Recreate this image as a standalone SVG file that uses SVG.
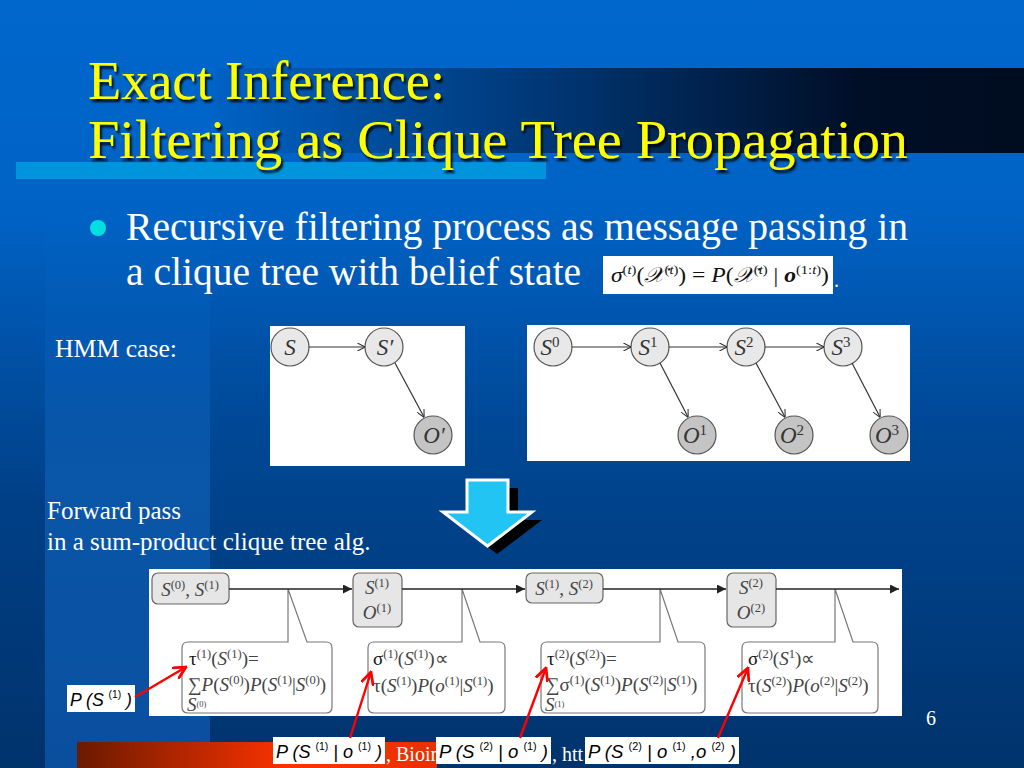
<svg xmlns="http://www.w3.org/2000/svg" width="1024" height="768" viewBox="0 0 1024 768">
<defs>
<linearGradient id="bg" x1="0" y1="0" x2="0" y2="1">
<stop offset="0" stop-color="#0067cd"/>
<stop offset="0.28" stop-color="#0062c4"/>
<stop offset="0.55" stop-color="#004896"/>
<stop offset="1" stop-color="#00336c"/>
</linearGradient>
<linearGradient id="colL" x1="0" y1="0" x2="0" y2="1">
<stop offset="0" stop-color="#0066cc" stop-opacity="0"/>
<stop offset="0.5" stop-color="#0a56a8"/>
<stop offset="1" stop-color="#0a4f9e"/>
</linearGradient>
<linearGradient id="colF" x1="0" y1="0" x2="0" y2="1">
<stop offset="0" stop-color="#0066cc" stop-opacity="0"/>
<stop offset="0.55" stop-color="#003f86"/>
<stop offset="1" stop-color="#00336c"/>
</linearGradient>
<linearGradient id="band" x1="0" y1="0" x2="1" y2="0">
<stop offset="0" stop-color="#0062c4"/>
<stop offset="0.35" stop-color="#003d80"/>
<stop offset="0.8" stop-color="#000e26"/>
<stop offset="1" stop-color="#000c20"/>
</linearGradient>
<linearGradient id="strip" x1="0" y1="0" x2="1" y2="0">
<stop offset="0" stop-color="#6a1a00"/>
<stop offset="0.6" stop-color="#ff3300"/>
<stop offset="1" stop-color="#e83000"/>
</linearGradient>
<filter id="shadow" x="-5%" y="-20%" width="110%" height="140%">
<feDropShadow dx="2" dy="3" stdDeviation="1" flood-color="#000" flood-opacity="0.9"/>
</filter>
<marker id="ah" viewBox="0 0 10 10" refX="9.5" refY="5" markerWidth="8" markerHeight="8" orient="auto" markerUnits="userSpaceOnUse">
<path d="M0,0 L10,5 L0,10" fill="none" stroke="#333" stroke-width="1.3"/>
</marker>
<marker id="tri" viewBox="0 0 10 10" refX="10" refY="5" markerWidth="11" markerHeight="9" orient="auto" markerUnits="userSpaceOnUse">
<path d="M0,0 L10,5 L0,10 z" fill="#222"/>
</marker>
<marker id="red" viewBox="0 0 10 10" refX="9" refY="5" markerWidth="14" markerHeight="14" orient="auto" markerUnits="userSpaceOnUse">
<path d="M0,0.5 L9,5 L0,9.5" fill="none" stroke="#ff0000" stroke-width="2"/>
</marker>
</defs>
<style>
.serif{font-family:"Liberation Serif","Times New Roman",serif;}
.title{font-family:"Liberation Serif","Times New Roman",serif;font-size:54px;fill:#ffff00;filter:url(#shadow);}
.body{font-family:"Liberation Serif",serif;fill:#ffffff;}
.node{fill:#e8e8e8;stroke:#555;stroke-width:1.2;}
.obs{fill:#c4c4c4;stroke:#555;stroke-width:1.2;}
.nl{font-family:"Liberation Serif",serif;font-style:italic;font-size:23px;fill:#333;}
.ns{font-style:normal;font-size:15px;}
.edge{stroke:#333;stroke-width:1.2;fill:none;marker-end:url(#ah);}
.flow{stroke:#222;stroke-width:1.3;fill:none;marker-end:url(#tri);}
.clq{fill:#e6e6e6;stroke:#666;stroke-width:1.2;}
.call{fill:#fff;stroke:#777;stroke-width:1.2;}
.m{font-family:"Liberation Serif",serif;font-size:19px;fill:#444;}
.i{font-style:italic;}
.g{fill:#111;}
.sp{font-size:12.5px;font-style:normal;}
.redarr{stroke:#ff0000;stroke-width:2.4;fill:none;marker-end:url(#red);}
.lab{fill:#fff;}
.lt{font-family:"Liberation Sans",Arial,sans-serif;font-style:italic;font-size:18px;fill:#000;}
.lts{font-size:10.5px;font-style:normal;}
</style>

<!-- background -->
<rect x="0" y="0" width="1024" height="768" fill="url(#bg)"/>
<rect x="45" y="180" width="165" height="588" fill="url(#colL)"/>
<rect x="0" y="180" width="45" height="588" fill="url(#colF)"/>
<rect x="215" y="68" width="809" height="85" fill="url(#band)"/>
<rect x="16" y="162" width="530" height="17" fill="#0094dc"/>
<rect x="77" y="742" width="360" height="26" fill="url(#strip)"/>

<!-- title -->
<g id="title">
<text class="title" x="88" y="99" textLength="357" lengthAdjust="spacingAndGlyphs">Exact Inference:</text>
<text class="title" x="88" y="158" textLength="820" lengthAdjust="spacingAndGlyphs">Filtering as Clique Tree Propagation</text>
</g>

<!-- bullet -->
<g id="bullet">
<circle cx="98" cy="228" r="8" fill="#00e0e0"/>
<text class="body" x="126" y="240" font-size="39.5" textLength="782" lengthAdjust="spacingAndGlyphs">Recursive filtering process as message passing in</text>
<text class="body" x="126" y="285" font-size="39.5">a clique tree with belief state</text>
<rect x="603" y="256" width="230" height="38" fill="#fff"/>
<text class="serif" x="611" y="282" font-size="21" fill="#111" textLength="218" lengthAdjust="spacingAndGlyphs"><tspan class="i">σ</tspan><tspan font-size="13" dy="-8">(<tspan class="i">t</tspan>)</tspan><tspan dy="8">(</tspan><tspan class="i">𝒳</tspan><tspan font-size="13" dy="-8">(<tspan class="i">t</tspan>)</tspan><tspan dy="8">) = </tspan><tspan class="i">P</tspan>(<tspan class="i">𝒳</tspan><tspan font-size="13" dy="-8">(<tspan class="i">t</tspan>)</tspan><tspan dy="8"> | </tspan><tspan class="i" font-weight="bold">o</tspan><tspan font-size="13" dy="-8">(1:<tspan class="i">t</tspan>)</tspan><tspan dy="8">)</tspan></text>
<text class="body" x="834" y="287" font-size="20">.</text>
</g>

<!-- texts -->
<text class="body" x="55" y="357" font-size="25" textLength="122" lengthAdjust="spacingAndGlyphs">HMM case:</text>
<text class="body" x="47" y="519" font-size="25">Forward pass</text>
<text class="body" x="47" y="550" font-size="25">in a sum-product clique tree alg.</text>
<text class="body" x="926" y="725" font-size="20">6</text>

<!-- HMM 2TBN -->
<g id="hmm-2tbn">
<rect x="270" y="326" width="195" height="140" fill="#fff"/>
<g id="n-S"><circle class="node" cx="290" cy="347" r="19"/><text class="nl" x="290" y="355" text-anchor="middle">S</text></g>
<g id="n-Sp"><circle class="node" cx="384" cy="347" r="19"/><text class="nl" x="385" y="355" text-anchor="middle">S′</text></g>
<g id="n-Op"><circle class="obs" cx="433" cy="435" r="19"/><text class="nl" x="434" y="443" text-anchor="middle">O′</text></g>
</g>

<!-- HMM unrolled -->
<g id="hmm-unrolled">
<rect x="527" y="325" width="383" height="136" fill="#fff"/>
<g id="n-S0"><circle class="node" cx="553" cy="347" r="19"/><text class="nl" x="550" y="355" text-anchor="middle">S<tspan class="ns" dy="-8">0</tspan></text></g>
<g id="n-S1"><circle class="node" cx="650" cy="347" r="19"/><text class="nl" x="648" y="355" text-anchor="middle">S<tspan class="ns" dy="-8">1</tspan></text></g>
<g id="n-S2"><circle class="node" cx="746" cy="347" r="19"/><text class="nl" x="744" y="355" text-anchor="middle">S<tspan class="ns" dy="-8">2</tspan></text></g>
<g id="n-S3"><circle class="node" cx="843" cy="347" r="19"/><text class="nl" x="841" y="355" text-anchor="middle">S<tspan class="ns" dy="-8">3</tspan></text></g>
<g id="n-O1"><circle class="obs" cx="697" cy="435" r="19"/><text class="nl" x="695" y="443" text-anchor="middle">O<tspan class="ns" dy="-8">1</tspan></text></g>
<g id="n-O2"><circle class="obs" cx="794" cy="435" r="19"/><text class="nl" x="792" y="443" text-anchor="middle">O<tspan class="ns" dy="-8">2</tspan></text></g>
<g id="n-O3"><circle class="obs" cx="889" cy="435" r="19"/><text class="nl" x="887" y="443" text-anchor="middle">O<tspan class="ns" dy="-8">3</tspan></text></g>
</g>

<!-- big arrow -->
<g id="down-arrow">
<polygon points="477,488 518,488 518,520 542,520 497,554 453,520 477,520" fill="#000"/>
<polygon points="467,480 508,480 508,512 532,512 487.5,546 443,512 467,512" fill="#22c4f4" stroke="#fff" stroke-width="3" stroke-linejoin="miter"/>
</g>

<!-- clique tree panel -->
<rect x="149" y="569" width="753" height="147" fill="#fff"/>
<g id="c1"><rect class="clq" x="152" y="573" width="77" height="31" rx="6"/>
<text class="m" x="190" y="596" text-anchor="middle"><tspan class="i">S</tspan><tspan class="sp" dy="-7">(0)</tspan><tspan dy="7">, </tspan><tspan class="i">S</tspan><tspan class="sp" dy="-7">(1)</tspan></text></g>
<g id="c2"><rect class="clq" x="353" y="573" width="49" height="54" rx="6"/>
<text class="m" x="377" y="594" text-anchor="middle"><tspan class="i">S</tspan><tspan class="sp" dy="-7">(1)</tspan></text>
<text class="m" x="377" y="619" text-anchor="middle"><tspan class="i">O</tspan><tspan class="sp" dy="-7">(1)</tspan></text></g>
<g id="c3"><rect class="clq" x="526" y="573" width="77" height="30" rx="6"/>
<text class="m" x="564" y="595" text-anchor="middle"><tspan class="i">S</tspan><tspan class="sp" dy="-7">(1)</tspan><tspan dy="7">, </tspan><tspan class="i">S</tspan><tspan class="sp" dy="-7">(2)</tspan></text></g>
<g id="c4"><rect class="clq" x="727" y="573" width="49" height="54" rx="6"/>
<text class="m" x="751" y="594" text-anchor="middle"><tspan class="i">S</tspan><tspan class="sp" dy="-7">(2)</tspan></text>
<text class="m" x="751" y="619" text-anchor="middle"><tspan class="i">O</tspan><tspan class="sp" dy="-7">(2)</tspan></text></g>

<!-- callouts -->
<g id="m1">
<path class="call" d="M188,642 H288 V589 L307,642 H326 Q332,642 332,648 V707 Q332,713 326,713 H188 Q182,713 182,707 V648 Q182,642 188,642 Z"/>
<text class="m" x="189" y="665"><tspan class="g">τ</tspan><tspan class="sp" dy="-7">(1)</tspan><tspan dy="7">(</tspan><tspan class="i">S</tspan><tspan class="sp" dy="-7">(1)</tspan><tspan dy="7">)=</tspan></text>
<text class="m" x="188" y="691">∑<tspan class="i">P</tspan>(<tspan class="i">S</tspan><tspan class="sp" dy="-7">(0)</tspan><tspan dy="7">)</tspan><tspan class="i">P</tspan>(<tspan class="i">S</tspan><tspan class="sp" dy="-7">(1)</tspan><tspan dy="7">|</tspan><tspan class="i">S</tspan><tspan class="sp" dy="-7">(0)</tspan><tspan dy="7">)</tspan></text>
<text class="m" x="187" y="711" font-size="12"><tspan class="i">S</tspan><tspan font-size="8.5" dy="-4">(0)</tspan></text>
</g>
<g id="m2">
<path class="call" d="M374,642 H462 V589 L480,642 H499 Q505,642 505,648 V707 Q505,713 499,713 H374 Q368,713 368,707 V648 Q368,642 374,642 Z"/>
<text class="m" x="373" y="665"><tspan class="g">σ</tspan><tspan class="sp" dy="-7">(1)</tspan><tspan dy="7">(</tspan><tspan class="i">S</tspan><tspan class="sp" dy="-7">(1)</tspan><tspan dy="7">)∝</tspan></text>
<text class="m" x="373" y="692"><tspan>τ</tspan>(<tspan class="i">S</tspan><tspan class="sp" dy="-7">(1)</tspan><tspan dy="7">)</tspan><tspan class="i">P</tspan>(<tspan class="i">o</tspan><tspan class="sp" dy="-7">(1)</tspan><tspan dy="7">|</tspan><tspan class="i">S</tspan><tspan class="sp" dy="-7">(1)</tspan><tspan dy="7">)</tspan></text>
</g>
<g id="m3">
<path class="call" d="M547,642 H660 V589 L678,642 H699 Q705,642 705,648 V707 Q705,713 699,713 H547 Q541,713 541,707 V648 Q541,642 547,642 Z"/>
<text class="m" x="547" y="665"><tspan class="g">τ</tspan><tspan class="sp" dy="-7">(2)</tspan><tspan dy="7">(</tspan><tspan class="i">S</tspan><tspan class="sp" dy="-7">(2)</tspan><tspan dy="7">)=</tspan></text>
<text class="m" x="546" y="691">∑σ<tspan class="sp" dy="-7">(1)</tspan><tspan dy="7">(</tspan><tspan class="i">S</tspan><tspan class="sp" dy="-7">(1)</tspan><tspan dy="7">)</tspan><tspan class="i">P</tspan>(<tspan class="i">S</tspan><tspan class="sp" dy="-7">(2)</tspan><tspan dy="7">|</tspan><tspan class="i">S</tspan><tspan class="sp" dy="-7">(1)</tspan><tspan dy="7">)</tspan></text>
<text class="m" x="545" y="711" font-size="12"><tspan class="i">S</tspan><tspan font-size="8.5" dy="-4">(1)</tspan></text>
</g>
<g id="m4">
<path class="call" d="M748,642 H835 V589 L853,642 H872 Q878,642 878,648 V707 Q878,713 872,713 H748 Q742,713 742,707 V648 Q742,642 748,642 Z"/>
<text class="m" x="748" y="665"><tspan class="g">σ</tspan><tspan class="sp" dy="-7">(2)</tspan><tspan dy="7">(</tspan><tspan class="i">S</tspan><tspan class="sp" dy="-7">1</tspan><tspan dy="7">)∝</tspan></text>
<text class="m" x="748" y="692"><tspan>τ</tspan>(<tspan class="i">S</tspan><tspan class="sp" dy="-7">(2)</tspan><tspan dy="7">)</tspan><tspan class="i">P</tspan>(<tspan class="i">o</tspan><tspan class="sp" dy="-7">(2)</tspan><tspan dy="7">|</tspan><tspan class="i">S</tspan><tspan class="sp" dy="-7">(2)</tspan><tspan dy="7">)</tspan></text>
</g>

<!-- connectors -->
<g id="connectors">
<line class="edge" x1="309" y1="347" x2="365" y2="347"/>
<line class="edge" x1="395" y1="363" x2="424" y2="417"/>
<line class="edge" x1="572" y1="347" x2="631" y2="347"/>
<line class="edge" x1="669" y1="347" x2="727" y2="347"/>
<line class="edge" x1="765" y1="347" x2="824" y2="347"/>
<line class="edge" x1="660" y1="363" x2="688" y2="417"/>
<line class="edge" x1="756" y1="363" x2="785" y2="417"/>
<line class="edge" x1="852" y1="363" x2="880" y2="417"/>
<line class="flow" x1="229" y1="589" x2="352" y2="589"/>
<line class="flow" x1="402" y1="589" x2="525" y2="589"/>
<line class="flow" x1="603" y1="589" x2="726" y2="589"/>
<line class="flow" x1="776" y1="589" x2="899" y2="589"/>
</g>

<!-- bottom partly hidden text -->
<text class="body" x="386" y="761" font-size="20">, Bioin</text>
<text class="body" x="552" y="761" font-size="20">, htt</text>

<!-- labels -->
<g id="lab1"><rect class="lab" x="67" y="685" width="68" height="27"/>
<text class="lt" x="70" y="706" textLength="62" lengthAdjust="spacingAndGlyphs">P (S <tspan class="lts" dy="-8">(1)</tspan><tspan dy="8"> )</tspan></text></g>
<g id="lab2"><rect class="lab" x="273" y="737" width="112" height="27"/>
<text class="lt" x="276" y="758" textLength="106" lengthAdjust="spacingAndGlyphs">P (S <tspan class="lts" dy="-8">(1)</tspan><tspan dy="8"> | o </tspan><tspan class="lts" dy="-8">(1)</tspan><tspan dy="8"> )</tspan></text></g>
<g id="lab3"><rect class="lab" x="436" y="737" width="115" height="27"/>
<text class="lt" x="439" y="758" textLength="109" lengthAdjust="spacingAndGlyphs">P (S <tspan class="lts" dy="-8">(2)</tspan><tspan dy="8"> | o </tspan><tspan class="lts" dy="-8">(1)</tspan><tspan dy="8"> )</tspan></text></g>
<g id="lab4"><rect class="lab" x="585" y="737" width="154" height="27"/>
<text class="lt" x="588" y="758" textLength="148" lengthAdjust="spacingAndGlyphs">P (S <tspan class="lts" dy="-8">(2)</tspan><tspan dy="8"> | o </tspan><tspan class="lts" dy="-8">(1)</tspan><tspan dy="8"> ,o </tspan><tspan class="lts" dy="-8">(2)</tspan><tspan dy="8"> )</tspan></text></g>

<g id="red-arrows">
<line class="redarr" x1="135" y1="697" x2="186" y2="667"/>
<line class="redarr" x1="350" y1="738" x2="371" y2="672"/>
<line class="redarr" x1="520" y1="738" x2="546" y2="668"/>
<line class="redarr" x1="718" y1="738" x2="748" y2="668"/>
</g>
</svg>
